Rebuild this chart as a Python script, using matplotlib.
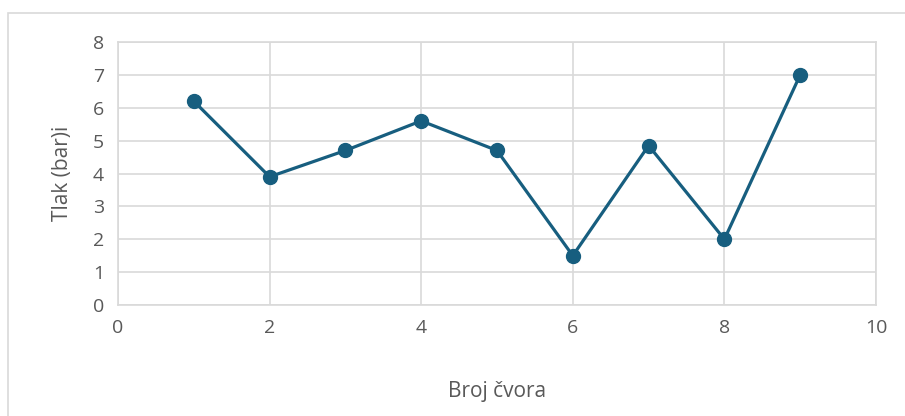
import matplotlib
matplotlib.use("Agg")
import matplotlib.pyplot as plt
from matplotlib.patches import Rectangle

nodes = [1, 2, 3, 4, 5, 6, 7, 8, 9]
pressure = [6.2, 3.9, 4.7, 5.6, 4.7, 1.5, 4.85, 2.0, 7.0]
x_ticks = [0, 2, 4, 6, 8, 10]
y_ticks = [0, 1, 2, 3, 4, 5, 6, 7, 8]

plt.rcParams['font.family'] = ['Open Sans', 'DejaVu Sans']

W, H = 905, 416
fig = plt.figure(figsize=(W / 100, H / 100), dpi=100)
fig.patch.set_facecolor('white')

# outer chart frame (partially cropped at right/bottom)
fig.add_artist(Rectangle((8 / W, -0.1), 1.2, (H - 13) / H + 0.1,
                         transform=fig.transFigure, fill=False,
                         edgecolor='#d9d9d9', linewidth=1.2))

ax = fig.add_axes([118 / W, (H - 305) / H, (876 - 118) / W, (305 - 42) / H])
line_color = '#175e7f'
ax.plot(nodes, pressure, color=line_color, linewidth=2.3, marker='o',
        markersize=10, zorder=3)

ax.set_xlim(0, 10)
ax.set_ylim(0, 8)
ax.set_xticks(x_ticks)
ax.set_yticks(y_ticks)
ax.grid(True, color='#d9d9d9', linewidth=1.2)
ax.set_axisbelow(True)
for s in ax.spines.values():
    s.set_color('#d9d9d9')
    s.set_linewidth(1.2)
ax.tick_params(length=0, labelsize=14, colors='#595959', pad=10)

ax.set_xlabel('Broj čvora', fontsize=15, color='#595959', labelpad=32)
ax.set_ylabel('Tlak (bar)i', fontsize=15, color='#595959', labelpad=14)

fig.savefig('out.png', dpi=100)
